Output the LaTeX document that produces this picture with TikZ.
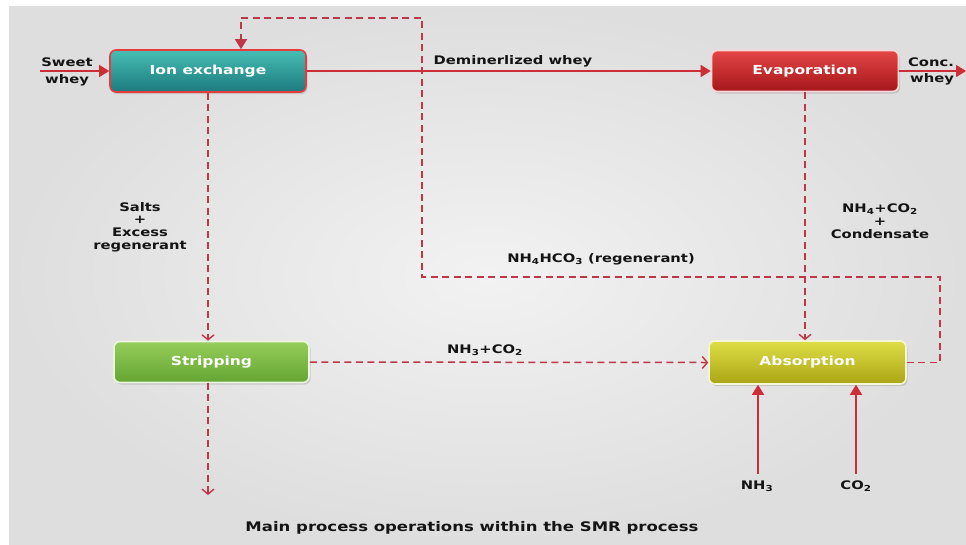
\documentclass[tikz,border=0pt]{standalone}
\usepackage{fontspec}
\newfontfamily\vf{DejaVu Sans}[FakeStretch=1.25]
\usetikzlibrary{arrows.meta,shadows}
\definecolor{lred}{RGB}{205,45,55}
\definecolor{dred}{RGB}{190,55,70}
\definecolor{bgin}{RGB}{242,242,242}
\definecolor{bgout}{RGB}{222,222,222}
\definecolor{tealtop}{RGB}{70,190,180}
\definecolor{tealbot}{RGB}{28,122,126}
\definecolor{redtop}{RGB}{228,70,70}
\definecolor{redbot}{RGB}{165,22,26}
\definecolor{greentop}{RGB}{150,205,90}
\definecolor{greenbot}{RGB}{100,165,50}
\definecolor{yeltop}{RGB}{222,222,70}
\definecolor{yelbot}{RGB}{170,165,20}
\definecolor{txt}{RGB}{20,20,20}
\tikzset{
  box/.style={rounded corners=6pt, minimum width=196pt, minimum height=42pt,
    text=white, font=\vf\bfseries\fontsize{12.4}{14}\selectfont,
    drop shadow={shadow xshift=1.5pt, shadow yshift=-2pt, opacity=0.3},
    line width=1.6pt},
  flow/.style={draw=lred, line width=1.5pt, -{Triangle[length=10pt,width=12pt]}},
  dflow/.style={draw=dred, line width=1.5pt, dash pattern=on 7pt off 4.5pt,
    -{Straight Barb[length=5pt,width=12pt,line width=1.4pt]}},
  lbl/.style={text=txt, font=\vf\bfseries\fontsize{11.8}{13.5}\selectfont, inner sep=0pt, align=center}
}
\begin{document}
\begin{tikzpicture}[x=1pt,y=-1pt]
\useasboundingbox (0,0) rectangle (966,544);
\fill[white] (0,0) rectangle (966,544);
\shade[inner color=bgin, outer color=bgout] (9,6) rectangle (966,544);

% boxes
\node[box, draw={rgb,255:red,232;green,60;blue,60}, top color=tealtop, bottom color=tealbot,
  minimum width=196pt, minimum height=42pt] (ion) at (208,71) {Ion exchange};
\node[box, draw={rgb,255:red,250;green,215;blue,215}, top color=redtop, bottom color=redbot,
  minimum width=187pt, minimum height=41pt] (evap) at (805,71) {Evaporation};
\node[box, draw={rgb,255:red,235;green,245;blue,225}, top color=greentop, bottom color=greenbot,
  minimum width=195pt, minimum height=41pt] (strip) at (211.5,362) {Stripping};
\node[box, draw={rgb,255:red,245;green,245;blue,215}, top color=yeltop, bottom color=yelbot,
  minimum width=197pt, minimum height=43pt] (abs) at (807.5,362.5) {Absorption};

% coordinates
\coordinate (sw) at (40,71);
\coordinate (cw) at (966,71);
\coordinate (sout) at (208,495);
\coordinate (nh3) at (758,474);
\coordinate (co2) at (856,474);
\coordinate (r1) at (940,362.5);
\coordinate (r2) at (940,277);
\coordinate (r3) at (422,277);
\coordinate (r4) at (422,18);
\coordinate (r5) at (241,18);

% solid flows
\draw[flow] (sw) -- (ion.west);
\draw[flow] (ion.east) -- (evap.west);
\draw[flow] (evap.east) -- (cw);
\draw[flow] (nh3) -- (nh3 |- abs.south);
\draw[flow] (co2) -- (co2 |- abs.south);

% dashed flows
\draw[dflow] (ion.south) -- (ion.south |- strip.north);
\draw[dflow] (208,382.5) -- (sout);
\draw[dflow] (strip.east) -- (abs.west);
\draw[dflow] (evap.south) -- (evap.south |- abs.north);
\draw[draw=dred, line width=1.5pt, dash pattern=on 7pt off 4.5pt,
  -{Triangle[length=10pt,width=12pt]}]
  (abs.east) -- (r1) -- (r2) -- (r3) -- (r4) -- (r5) -- (r5 |- ion.north);

% labels
\node[lbl] (l1) at (67,62) {Sweet};
\node[lbl] (l2) at (67,80) {whey};
\node[lbl] (l3) at (931,62) {Conc.};
\node[lbl] (l4) at (932,79) {whey};
\node[lbl] (l5) at (513,61) {Deminerlized whey};
\node[lbl, font=\vf\bfseries\fontsize{11.8}{12.8}\selectfont] (l6) at (140,227) {Salts\\+\\Excess\\regenerant};
\node[lbl, font=\vf\bfseries\fontsize{11.8}{12.8}\selectfont] (l7) at (880,221) {NH\textsubscript{4}+CO\textsubscript{2}\\+\\Condensate};
\node[lbl] (l8) at (601,259) {NH\textsubscript{4}HCO\textsubscript{3} (regenerant)};
\node[lbl] (l9) at (485,350) {NH\textsubscript{3}+CO\textsubscript{2}};
\node[lbl] (l10) at (757,486) {NH\textsubscript{3}};
\node[lbl] (l11) at (856,486) {CO\textsubscript{2}};
\node[lbl, font=\vf\bfseries\fontsize{13.2}{15}\selectfont] (cap) at (472,528) {Main process operations within the SMR process};
\end{tikzpicture}
\end{document}
